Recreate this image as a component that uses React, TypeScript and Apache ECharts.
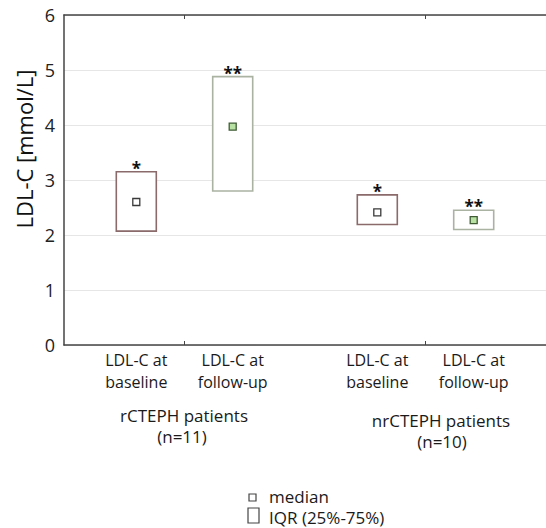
import React, { useEffect, useRef } from "react";
import * as echarts from "echarts";

// ---- data ----
const categories = ["LDL-C at\nbaseline", "LDL-C at\nfollow-up", "LDL-C at\nbaseline", "LDL-C at\nfollow-up"];
const positions = [1.5, 3.5, 6.5, 8.5];
const q1Values = [2.07, 2.8, 2.19, 2.1];
const q3Values = [3.15, 4.88, 2.73, 2.45];
const medianValues = [2.6, 3.97, 2.41, 2.27];
const stars = ["*", "**", "*", "**"];
const timepoint = ["baseline", "follow-up", "baseline", "follow-up"];
const groupNames = ["rCTEPH patients", "nrCTEPH patients"];
const groupSizes = ["(n=11)", "(n=10)"];
const groupTicks = [2.5, 7.5];
const yTicks = [0, 1, 2, 3, 4, 5, 6];

const FONT = "'Open Sans', 'Noto Sans', sans-serif";

export default function App() {
  const ref = useRef<HTMLDivElement>(null);
  useEffect(() => {
    if (!ref.current) return;
    const chart = echarts.init(ref.current, null, { renderer: "svg" });
    const boxData = positions.map((p, i) => [p, q1Values[i], q3Values[i], medianValues[i], i]);
    const groupText = (x: number, y: number, text: string) => ({
      type: "text",
      x,
      y,
      style: {
        text,
        fontSize: 17,
        fontFamily: FONT,
        fill: "#1a1a1a",
        align: "center",
        verticalAlign: "middle",
      },
    });
    const option: any = {
      animation: false,
      backgroundColor: "#fff",
      textStyle: { fontFamily: FONT },
      grid: { left: 64, right: 0, top: 15, bottom: 183 },
      xAxis: [
        {
          type: "value",
          min: 0,
          max: 10,
          position: "bottom",
          axisLine: { show: true, lineStyle: { color: "#444", width: 1.5 } },
          axisTick: { show: true, inside: true, length: 4, customValues: groupTicks, lineStyle: { color: "#444" } },
          axisLabel: {
            show: true,
            customValues: positions,
            formatter: (v: number) => {
              const i = positions.indexOf(v);
              return i >= 0 ? categories[i] : "";
            },
            fontSize: 16,
            lineHeight: 22,
            color: "#1a1a1a",
            fontFamily: FONT,
            margin: 4,
          },
          splitLine: { show: false },
        },
        {
          type: "value",
          min: 0,
          max: 10,
          position: "top",
          axisLine: { show: true, lineStyle: { color: "#444", width: 1.5 } },
          axisTick: { show: true, inside: true, length: 4, customValues: groupTicks, lineStyle: { color: "#444" } },
          axisLabel: { show: false },
          splitLine: { show: false },
        },
      ],
      yAxis: {
        type: "value",
        min: 0,
        max: 6,
        interval: 1,
        axisLine: { show: true, lineStyle: { color: "#444", width: 1.5 } },
        axisTick: { show: false },
        axisLabel: {
          fontSize: 18,
          color: "#222",
          margin: 9,
          fontFamily: FONT,
          formatter: (v: number) => (yTicks.includes(v) ? String(v) : ""),
        },
        splitLine: { show: true, lineStyle: { color: "#e6e6e6", width: 1 } },
      },
      series: [
        {
          type: "custom",
          xAxisIndex: 0,
          yAxisIndex: 0,
          data: boxData,
          renderItem: (params: any, api: any) => {
            const x = api.value(0);
            const idx = api.value(4);
            const top = api.coord([x, api.value(2)]);
            const bot = api.coord([x, api.value(1)]);
            const med = api.coord([x, api.value(3)]);
            const isBase = timepoint[idx] === "baseline";
            const stroke = isBase ? "#8a6a6a" : "#aab2a2";
            const medFill = isBase ? "#ffffff" : "#b8e2a4";
            const medStroke = isBase ? "#3a3a3a" : "#3f5c34";
            return {
              type: "group",
              children: [
                {
                  type: "rect",
                  shape: { x: top[0] - 20, y: top[1], width: 40, height: bot[1] - top[1] },
                  style: { fill: "#fff", stroke, lineWidth: 1.6 },
                },
                {
                  type: "rect",
                  shape: { x: med[0] - 3.5, y: med[1] - 3.5, width: 7, height: 7 },
                  style: { fill: medFill, stroke: medStroke, lineWidth: 1.3 },
                },
                {
                  type: "text",
                  style: {
                    text: stars[idx],
                    x: top[0],
                    y: top[1] + 5,
                    align: "center",
                    verticalAlign: "bottom",
                    fontSize: 17,
                    fontWeight: "bold",
                    fontFamily: FONT,
                    fill: "#111",
                  },
                },
              ],
            };
          },
        },
      ],
      graphic: [
        {
          type: "text",
          x: 24,
          y: 149,
          rotation: Math.PI / 2,
          style: {
            text: "LDL-C [mmol/L]",
            fontSize: 22,
            fontFamily: FONT,
            fill: "#111",
            align: "center",
            verticalAlign: "middle",
          },
        },
        groupText(184, 415, groupNames[0]),
        groupText(182, 436, groupSizes[0]),
        groupText(441, 420, groupNames[1]),
        groupText(442, 441, groupSizes[1]),
        {
          type: "rect",
          shape: { x: 249, y: 494, width: 7, height: 7 },
          style: { fill: "#fff", stroke: "#444", lineWidth: 1.2 },
        },
        {
          type: "text",
          x: 269,
          y: 496,
          style: { text: "median", fontSize: 17, fontFamily: FONT, fill: "#1a1a1a", verticalAlign: "middle" },
        },
        {
          type: "rect",
          shape: { x: 248, y: 508, width: 11, height: 15 },
          style: { fill: "#fff", stroke: "#444", lineWidth: 1.2 },
        },
        {
          type: "text",
          x: 269,
          y: 517,
          style: { text: "IQR (25%-75%)", fontSize: 17, fontFamily: FONT, fill: "#1a1a1a", verticalAlign: "middle" },
        },
      ],
    };
    chart.setOption(option);
    return () => chart.dispose();
  }, []);
  return (
    <div
      ref={ref}
      style={{ position: "fixed", left: 0, top: 0, width: 546, height: 528, background: "#fff" }}
    />
  );
}
